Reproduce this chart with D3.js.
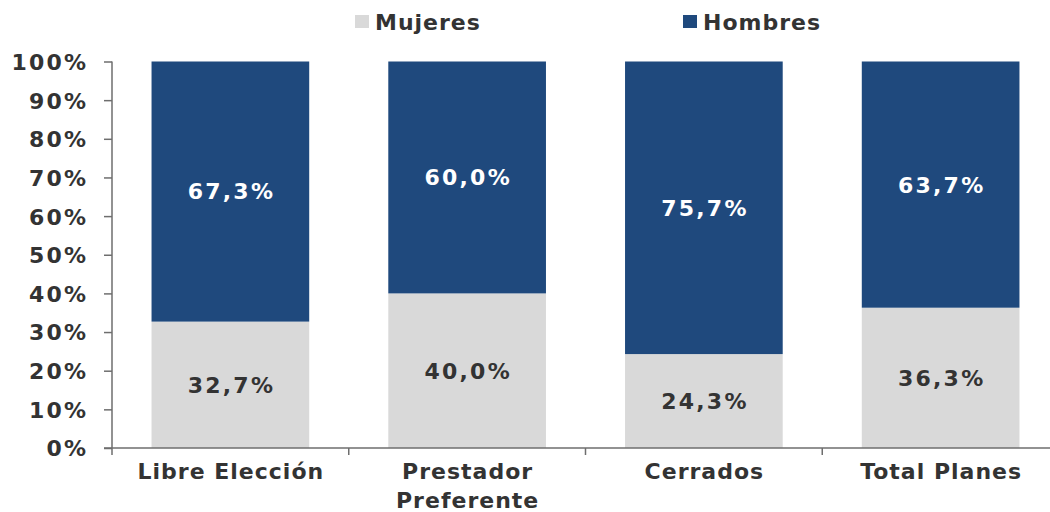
<!DOCTYPE html>
<html><head><meta charset="utf-8">
<script src="https://cdn.jsdelivr.net/npm/d3@7"></script>
<style>body{margin:0;background:#fff}svg{display:block}text{font-family:"DejaVu Sans",sans-serif;font-weight:bold}</style>
</head><body><svg id="c" width="1050" height="512"></svg>
<script>
const categories = [["Libre Elección"], ["Prestador","Preferente"], ["Cerrados"], ["Total Planes"]];
const mujeres = [32.7, 40.0, 24.3, 36.3];
const hombres = [67.3, 60.0, 75.7, 63.7];
const yTicks = [0,10,20,30,40,50,60,70,80,90,100];
const seriesNames = ["Mujeres","Hombres"];
const colors = ["#D9D9D9","#1F497D"];
const labelColors = ["#333333","#FFFFFF"];

(function(){
const svg = d3.select("#c");
const pL = 112, pR = 1059, pT = 61.5, pB = 448;
const x = d3.scaleBand().domain(d3.range(categories.length)).range([pL, pR]).paddingInner(0.334).paddingOuter(0.167);
const y = d3.scaleLinear().domain([0,100]).range([pB, pT]);
const fmt = v => v.toFixed(1).replace(".", ",") + "%";
const numLS = 2.2, wordLS = 1;

const stack = categories.map((c,i)=>[{s:0,y0:0,y1:mujeres[i],v:mujeres[i],i},{s:1,y0:mujeres[i],y1:100,v:hombres[i],i}]).flat();

svg.append("g").selectAll("rect").data(stack).join("rect")
  .attr("x", d=>x(d.i)).attr("width", x.bandwidth())
  .attr("y", d=>y(d.y1)).attr("height", d=>y(d.y0)-y(d.y1))
  .attr("fill", d=>colors[d.s]);

svg.append("g").selectAll("text").data(stack).join("text")
  .attr("x", d=>x(d.i)+x.bandwidth()/2 + numLS/2)
  .attr("y", d=>(y(d.y0)+y(d.y1))/2)
  .attr("dy","0.36em").attr("text-anchor","middle")
  .attr("font-size",22).attr("letter-spacing",numLS).attr("fill", d=>labelColors[d.s])
  .text(d=>fmt(d.v));

// Y axis
const ya = svg.append("g").attr("transform",`translate(${pL},0)`)
  .call(d3.axisLeft(y).tickValues(yTicks).tickSize(8).tickPadding(18 - numLS).tickFormat(d=>d+"%"));
ya.select(".domain").attr("stroke","#6e6e6e").attr("stroke-width",1.5).attr("d",`M0,${pT}V${pB}`);
ya.selectAll(".tick line").attr("stroke","#6e6e6e").attr("stroke-width",1.5);
ya.selectAll(".tick text").attr("font-size",22).attr("letter-spacing",numLS).attr("fill","#333").attr("font-family","DejaVu Sans").attr("font-weight","bold").attr("dy","0.36em");

// X axis
const xg = svg.append("g");
xg.append("line").attr("x1",104).attr("x2",1050).attr("y1",pB).attr("y2",pB).attr("stroke","#6e6e6e").attr("stroke-width",1.5);
const bounds = d3.range(categories.length).map(i=>x(i)-x.step()*x.paddingInner()/2);
xg.selectAll("line.t").data(bounds).join("line").attr("class","t")
  .attr("x1",d=>d).attr("x2",d=>d).attr("y1",pB).attr("y2",pB+7).attr("stroke","#6e6e6e").attr("stroke-width",1.5);
const xl = xg.selectAll("text").data(categories).join("text")
  .attr("text-anchor","middle").attr("font-size",22).attr("letter-spacing",wordLS).attr("fill","#333")
  .attr("transform",(d,i)=>`translate(${x(i)+x.bandwidth()/2 + wordLS/2},479)`);
xl.selectAll("tspan").data(d=>d).join("tspan").attr("x",0).attr("dy",(d,j)=>j?29:0).text(d=>d);

// Legend
const legX = [355, 683];
const lg = svg.append("g").selectAll("g").data(seriesNames).join("g").attr("transform",(d,i)=>`translate(${legX[i]},15)`);
lg.append("rect").attr("width",14).attr("height",13).attr("fill",(d,i)=>colors[i]);
lg.append("text").attr("x",20).attr("y",15).attr("font-size",22).attr("letter-spacing",wordLS).attr("fill","#333").text(d=>d);
})();
</script></body></html>
